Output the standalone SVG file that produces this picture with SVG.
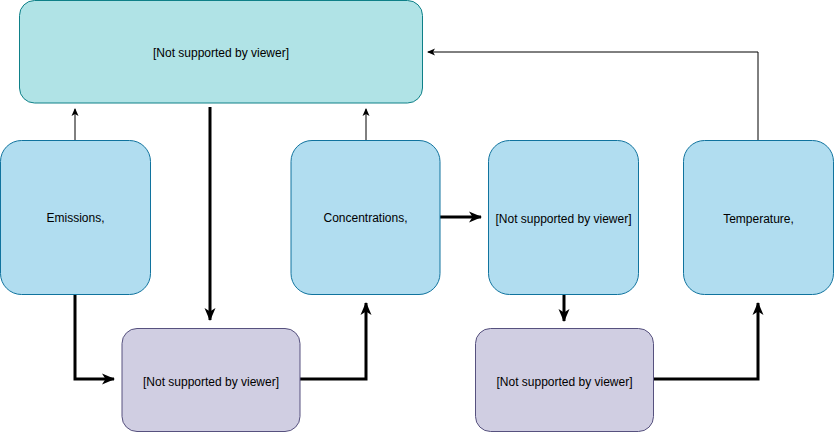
<svg xmlns="http://www.w3.org/2000/svg" width="834" height="432" viewBox="0 0 834 432">
<defs>
<marker id="a" markerWidth="10" markerHeight="10" refX="7" refY="5" orient="auto" markerUnits="userSpaceOnUse" viewBox="0 0 10 10">
<path d="M0,1.5 L8,5 L0,8.5 L2,5 Z" fill="#000"/>
</marker>
<marker id="A" markerWidth="16" markerHeight="16" refX="12" refY="8" orient="auto" markerUnits="userSpaceOnUse" viewBox="0 0 16 16">
<path d="M0,2.5 L13,8 L0,13.5 L3.5,8 Z" fill="#000"/>
</marker>
</defs>
<style>
.t{font-family:"Liberation Sans",Arial,sans-serif;font-size:12px;fill:#000;text-anchor:middle;dominant-baseline:central}
.top{fill:#b0e3e6;stroke:#0e8088}
.b{fill:#b1ddf0;stroke:#10739e}
.p{fill:#d0cee2;stroke:#56517e}
.thin{fill:none;stroke:#000;stroke-width:1}
.thick{fill:none;stroke:#000;stroke-width:3}
</style>
<g id="connectors">
<path class="thin" d="M75,140 L75,109" marker-end="url(#a)"/>
<path class="thin" d="M366,140 L366,109" marker-end="url(#a)" stroke="#555"/>
<path class="thin" d="M758,140 L758,52 L428,52" marker-end="url(#a)"/>
<path class="thick" d="M210,107 L210,320" marker-end="url(#A)"/>
<path class="thick" d="M75,295 L75,379 L114,379" marker-end="url(#A)"/>
<path class="thick" d="M300,379 L366,379 L366,303" marker-end="url(#A)"/>
<path class="thick" d="M440,217 L481,217" marker-end="url(#A)"/>
<path class="thick" d="M564,295 L564,321" marker-end="url(#A)"/>
<path class="thick" d="M653,379 L758,379 L758,303" marker-end="url(#A)"/>
</g>
<g id="top">
<rect class="top" x="19.5" y="0.5" width="403" height="102.5" rx="15" ry="15"/>
<text class="t" x="221" y="53">[Not supported by viewer]</text>
</g>
<g id="emissions">
<rect class="b" x="0.5" y="140.5" width="150" height="154" rx="21" ry="21"/>
<text class="t" x="75.5" y="218">Emissions,</text>
</g>
<g id="concentrations">
<rect class="b" x="291" y="140.5" width="149" height="154" rx="21" ry="21"/>
<text class="t" x="365.5" y="218">Concentrations,</text>
</g>
<g id="node3">
<rect class="b" x="488.5" y="140.5" width="150" height="154" rx="21" ry="21"/>
<text class="t" x="563.5" y="219">[Not supported by viewer]</text>
</g>
<g id="temperature">
<rect class="b" x="683.5" y="140.5" width="150" height="154" rx="21" ry="21"/>
<text class="t" x="758.5" y="219">Temperature,</text>
</g>
<g id="purple1">
<rect class="p" x="122" y="328.5" width="178" height="103" rx="15" ry="15"/>
<text class="t" x="211" y="382">[Not supported by viewer]</text>
</g>
<g id="purple2">
<rect class="p" x="475.5" y="328.5" width="178" height="103" rx="15" ry="15"/>
<text class="t" x="564.5" y="382">[Not supported by viewer]</text>
</g>
</svg>
